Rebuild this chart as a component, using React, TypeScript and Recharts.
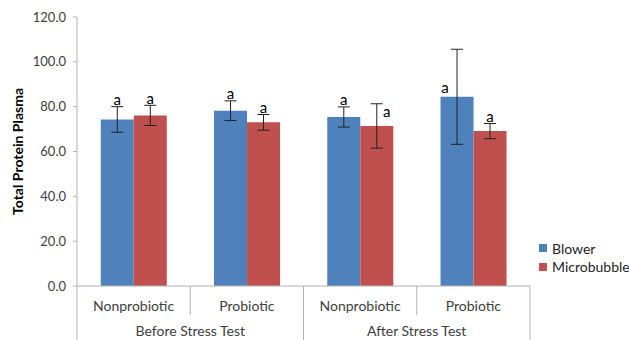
import { Bar, BarChart, ErrorBar, LabelList, XAxis, YAxis } from 'recharts'

// values (Total Protein Plasma)
const CATEGORIES = ['Nonprobiotic', 'Probiotic', 'Nonprobiotic', 'Probiotic']
const GROUPS = ['Before Stress Test', 'Before Stress Test', 'After Stress Test', 'After Stress Test']
const BLOWER = [74.3, 78.2, 75.4, 84.4]
const BLOWER_ERR = [5.7, 4.4, 4.5, 21.2]
const MICRO = [76.1, 73.0, 71.4, 69.1]
const MICRO_ERR = [4.5, 3.5, 9.9, 3.4]
const BLOWER_SIG = ['a', 'a', 'a', 'a']
const MICRO_SIG = ['a', 'a', 'a', 'a']
const Y_TICKS = [0, 20, 40, 60, 80, 100, 120]

const SERIES = [
  { key: 'blower', err: 'blowerErr', name: 'Blower', color: '#4F81BD', sig: BLOWER_SIG, errs: BLOWER_ERR },
  { key: 'micro', err: 'microErr', name: 'Microbubble', color: '#C0504D', sig: MICRO_SIG, errs: MICRO_ERR },
]

const data = CATEGORIES.map((cat, i) => ({
  cat,
  group: GROUPS[i],
  blower: BLOWER[i],
  blowerErr: BLOWER_ERR[i],
  micro: MICRO[i],
  microErr: MICRO_ERR[i],
}))

// layout
const W = 629
const H = 340
const M = { top: 17, right: 99, bottom: 0, left: 17 }
const Y_W = 60
const X_H = 54
const PLOT_W = W - M.left - M.right - Y_W
const BAND = PLOT_W / CATEGORIES.length
const PLOT_BOTTOM = H - M.bottom - X_H
const FONT = 'Lato, "Open Sans", sans-serif'
const AXIS_GRAY = '#b3b3b3'
const TEXT = '#404040'

// labels that were dragged by hand in the original (series key -> bar index)
const LABEL_ON_BAR: Record<string, Record<number, { dx: number; dy: number }>> = {
  blower: { 3: { dx: -12, dy: -4 } },
  micro: { 2: { dx: 10, dy: -9 } },
}

function CategoryTick(props: any) {
  const { x, payload, index } = props
  const left = x - BAND / 2
  const groupStart = index % 2 === 0
  const last = index === CATEGORIES.length - 1
  return (
    <g>
      <line x1={left} x2={left} y1={PLOT_BOTTOM} y2={groupStart ? H : PLOT_BOTTOM + 29} stroke={AXIS_GRAY} />
      {last && <line x1={x + BAND / 2} x2={x + BAND / 2} y1={PLOT_BOTTOM} y2={H} stroke={AXIS_GRAY} />}
      <text x={x} y={PLOT_BOTTOM + 25} textAnchor="middle" fontSize={14} fill={TEXT} fontFamily={FONT}>
        {payload.value}
      </text>
      {groupStart && (
        <text x={x + BAND / 2} y={PLOT_BOTTOM + 50} textAnchor="middle" fontSize={14} fill={TEXT} fontFamily={FONT}>
          {GROUPS[index]}
        </text>
      )}
    </g>
  )
}

function sigLabel(s: (typeof SERIES)[number]) {
  return (props: any) => {
    const { x, y, width, height, value, index } = props
    const pxPerUnit = height / value
    const nudge = LABEL_ON_BAR[s.key][index]
    let tx = x + width / 2
    let ty = y - s.errs[index] * pxPerUnit - 1.5
    if (nudge) {
      tx += nudge.dx
      ty = y + nudge.dy
    }
    return (
      <text x={tx} y={ty} textAnchor="middle" fontSize={15} fill="#000" fontFamily={FONT}>
        {s.sig[index]}
      </text>
    )
  }
}

export default function App() {
  return (
    <div style={{ position: 'absolute', left: 0, top: 0, width: W, height: H, background: '#fff' }}>
      <BarChart width={W} height={H} data={data} margin={M} barCategoryGap="21%" barGap={0}>
        <XAxis
          dataKey="cat"
          height={X_H}
          interval={0}
          tickLine={false}
          axisLine={{ stroke: AXIS_GRAY }}
          tick={<CategoryTick />}
        />
        <YAxis
          width={Y_W}
          domain={[0, 120]}
          ticks={Y_TICKS}
          tickFormatter={(v: number) => v.toFixed(1)}
          tickSize={4}
          tickMargin={7}
          tick={{ fill: TEXT, fontSize: 13, fontFamily: FONT }}
          axisLine={{ stroke: AXIS_GRAY }}
          tickLine={{ stroke: AXIS_GRAY }}
          label={{
            value: 'Total Protein Plasma',
            angle: -90,
            position: 'insideLeft',
            offset: 1,
            style: { fontWeight: 'bold', fontSize: 14, fill: '#000', fontFamily: FONT, textAnchor: 'middle' },
          }}
        />
        {SERIES.map((s) => (
          <Bar key={s.key} dataKey={s.key} name={s.name} fill={s.color} isAnimationActive={false}>
            <ErrorBar dataKey={s.err} width={6} stroke="#222" strokeWidth={1} />
            <LabelList dataKey={s.key} content={sigLabel(s)} />
          </Bar>
        ))}
      </BarChart>
      <div style={{ position: 'absolute', left: 539, top: 239, fontFamily: FONT, fontSize: 14, color: '#262626' }}>
        {SERIES.map((s) => (
          <div key={s.key} style={{ display: 'flex', alignItems: 'center', height: 18.5 }}>
            <span style={{ width: 8, height: 8, background: s.color, marginRight: 5 }} />
            {s.name}
          </div>
        ))}
      </div>
    </div>
  )
}
